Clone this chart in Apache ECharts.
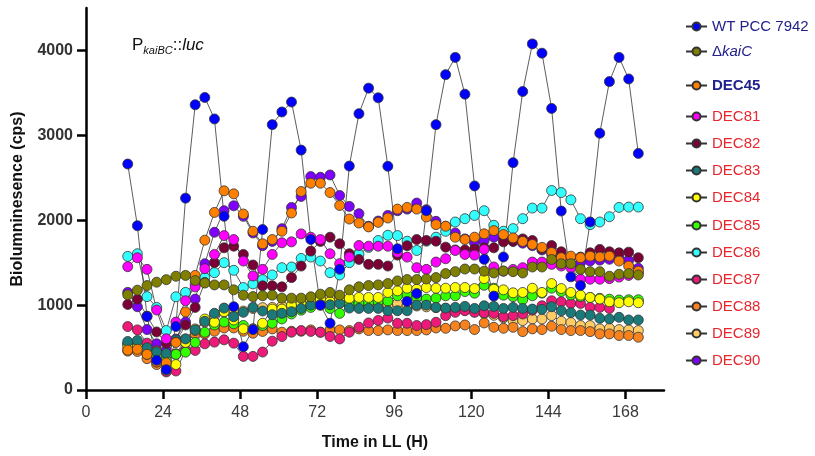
<!DOCTYPE html>
<html><head><meta charset="utf-8">
<script src="https://cdn.jsdelivr.net/npm/echarts@6/dist/echarts.min.js"></script>
<style>html,body{margin:0;padding:0;background:#fff}#c{width:815px;height:456px}</style>
</head><body><div id="c"></div>
<script>
const times = [13,16,19,22,25,28,31,34,37,40,43,46,49,52,55,58,61,64,67,70,73,76,79,82,85,88,91,94,97,100,103,106,109,112,115,118,121,124,127,130,133,136,139,142,145,148,151,154,157,160,163,166,169,172];
const xTicks = [0,24,48,72,96,120,144,168];
const yTicks = [0,1000,2000,3000,4000];

const wt = [2662,1935,865,350,240,748,2260,3360,3446,3193,2046,981,509,712,1890,3126,3275,3392,2826,1773,1000,786,1422,2638,3255,3556,3442,2635,1664,1044,1137,2112,3126,3715,3918,3485,2404,1539,1106,1567,2678,3516,4077,3968,3317,2108,1333,1231,1980,3024,3633,3918,3664,2787];
const kaiC = [1121,1176,1230,1270,1300,1340,1350,1290,1260,1238,1238,1180,1117,1100,1110,1117,1082,1082,1082,1098,1129,1149,1117,1180,1215,1230,1238,1254,1285,1301,1301,1308,1324,1371,1394,1425,1425,1400,1379,1402,1394,1379,1449,1449,1538,1488,1488,1421,1394,1394,1340,1363,1371,1355];
const dec45 = [470,480,420,330,320,560,920,1350,1765,2092,2346,2311,2073,1870,1722,1772,1870,2085,2338,2436,2436,2326,2174,2014,1967,1921,1975,2026,2131,2151,2131,2038,1948,1929,1800,1772,1800,1840,1878,1831,1792,1750,1714,1680,1620,1558,1577,1558,1577,1566,1577,1519,1460,1400];
const dec81 = [1453,1558,1421,942,603,800,1051,1215,1429,1597,1819,1772,1519,1343,1421,1597,1734,1745,1839,1800,1772,1605,1488,1566,1702,1694,1694,1694,1620,1566,1441,1421,1507,1546,1644,1597,1589,1656,1449,1400,1420,1441,1507,1507,1480,1460,1441,1305,1305,1305,1312,1330,1350,1380];
const dec82 = [1008,1070,870,684,552,564,766,973,1266,1500,1675,1694,1597,1472,1227,1227,1215,1324,1460,1636,1750,1800,1722,1605,1538,1480,1480,1460,1589,1700,1772,1761,1753,1683,1650,1650,1660,1675,1675,1745,1753,1780,1761,1663,1702,1628,1566,1566,1616,1656,1628,1616,1624,1558];
const dec83 = [571,583,497,450,430,591,602,708,809,903,965,864,915,973,930,887,903,922,960,1000,1004,1004,1020,965,961,961,961,934,934,934,1000,1000,973,965,973,985,961,992,985,961,973,961,953,950,981,934,911,883,883,844,837,856,825,825];
const dec84 = [500,505,420,330,232,300,560,700,836,798,922,825,720,720,786,953,953,1000,1020,1050,1070,1040,1060,1080,1090,1090,1090,1149,1168,1199,1188,1207,1199,1199,1207,1207,1195,1312,1188,1180,1145,1149,1199,1149,1254,1195,1149,1117,1090,1071,1039,1028,1039,1028];
const dec85 = [540,520,460,400,350,420,446,560,680,766,800,780,760,720,760,786,837,895,940,973,1000,960,903,1000,1020,1032,1043,1047,1110,1121,1090,1071,1082,1110,1110,1160,1141,1234,1199,1117,1100,1063,1110,1141,1200,1160,1120,1100,1090,1080,1070,1060,1063,1063];
const dec86 = [1574,1605,1100,973,700,1098,1150,1250,1324,1382,1500,1410,1207,1250,1300,1355,1441,1449,1550,1566,1519,1382,1355,1500,1600,1680,1761,1823,1819,1753,1644,1753,1800,1870,1979,2018,2057,2112,1940,1870,1901,2018,2143,2143,2350,2326,2240,2018,1948,1979,2041,2151,2155,2155];
const dec87 = [747,708,552,466,213,224,466,466,544,564,591,552,396,396,447,575,630,681,700,690,681,630,602,681,740,790,820,848,786,786,759,770,798,876,915,934,915,910,903,864,876,895,940,992,1051,1039,1020,1020,973,973,961,1051,1051,1040];
const dec88 = [458,454,369,300,330,427,552,661,661,692,731,731,692,669,690,720,681,692,692,708,681,708,708,700,720,700,700,708,700,700,700,708,731,727,755,766,712,790,739,727,739,688,720,712,751,712,700,700,688,661,661,642,642,622];
const dec89 = [540,500,440,350,300,420,600,720,800,880,920,950,930,960,970,973,990,1000,1010,1030,1050,1080,1090,1050,1000,980,990,1000,1020,1000,990,980,970,960,950,940,920,900,880,850,817,817,837,837,876,809,794,759,759,720,727,712,708,700];
const dec90 = [1150,981,712,544,466,600,800,1071,1488,1858,2112,2170,2046,1850,1700,1750,1900,2150,2280,2514,2506,2533,2291,2163,2077,1929,1990,2057,2112,2131,2202,2124,1987,1929,1850,1780,1733,1760,1800,1780,1750,1730,1700,1650,1600,1540,1480,1500,1520,1530,1540,1560,1527,1433];

const NAVY = '#22228c', RED = '#e8262d';
const defs = [
  {name:'WT PCC 7942', data:wt,  color:'#0000ff', text:NAVY, top:21},
  {name:'ΔkaiC',      data:kaiC, color:'#808000', text:NAVY, top:46, italic:true},
  {name:'DEC45',      data:dec45, color:'#ff8000', text:NAVY, top:80, bold:true},
  {name:'DEC81',      data:dec81, color:'#ff00ff', text:RED, top:111},
  {name:'DEC82',      data:dec82, color:'#7a0036', text:RED, top:138},
  {name:'DEC83',      data:dec83, color:'#1a7a7a', text:RED, top:165},
  {name:'DEC84',      data:dec84, color:'#ffff00', text:RED, top:192},
  {name:'DEC85',      data:dec85, color:'#33ff00', text:RED, top:220},
  {name:'DEC86',      data:dec86, color:'#33ffff', text:RED, top:247},
  {name:'DEC87',      data:dec87, color:'#ee1a7a', text:RED, top:274},
  {name:'DEC88',      data:dec88, color:'#f7821e', text:RED, top:301},
  {name:'DEC89',      data:dec89, color:'#ffcc66', text:RED, top:328},
  {name:'DEC90',      data:dec90, color:'#8000ff', text:RED, top:355}
];

const series = defs.slice().reverse().map(d => ({
  name: d.name, type:'line', data: times.map((t,i)=>[t,d.data[i]]),
  symbol:'circle', symbolSize:10, showSymbol:true,
  lineStyle:{color:'#333', width:0.8},
  itemStyle:{color:d.color, borderColor:'#333', borderWidth:0.8},
  emphasis:{disabled:true}, animation:false
}));

const legends = defs.map(d => ({
  data:[d.name], left:680, top:d.top-7, itemWidth:21, itemHeight:10, itemGap:0,
  selectedMode:false,
  textStyle: d.italic ? {fontFamily:'Liberation Sans', fontSize:15, color:d.text,
      rich:{n:{fontSize:15,color:d.text,fontFamily:'Liberation Sans'},i:{fontSize:15,fontStyle:'italic',color:d.text,fontFamily:'Liberation Sans'}}}
    : {fontFamily:'Liberation Sans', fontSize:15, color:d.text, fontWeight: d.bold?'bold':'normal'},
  formatter: d.italic ? (n => '{n|Δ}{i|kaiC}') : undefined
}));

const chart = echarts.init(document.getElementById('c'));
chart.setOption({
  animation:false,
  backgroundColor:'#fff',
  grid:{left:86, right:151, top:8, bottom:62, containLabel:false},
  legend: legends,
  xAxis:{type:'value', min:0, max:180, interval:24,
    name:'Time in LL (H)', nameLocation:'middle', nameGap:45,
    nameTextStyle:{fontFamily:'Liberation Sans', fontSize:16, fontWeight:'bold', color:'#111'},
    axisLine:{lineStyle:{color:'#000', width:2.5}},
    axisTick:{length:9, lineStyle:{color:'#000', width:2.5}, customValues:xTicks},
    axisLabel:{customValues:xTicks, fontFamily:'Liberation Sans', fontSize:16, color:'#3a3a3a', margin:15},
    splitLine:{show:false}},
  yAxis:{type:'value', min:0, max:4500, interval:1000,
    name:'Biolumninesence (cps)', nameLocation:'middle', nameGap:60, nameRotate:90,
    nameTextStyle:{fontFamily:'Liberation Sans', fontSize:16, fontWeight:'bold', color:'#111'},
    axisLine:{lineStyle:{color:'#000', width:2.5}},
    axisTick:{length:9, lineStyle:{color:'#000', width:2.5}, customValues:yTicks},
    axisLabel:{customValues:yTicks, formatter: v => String(v), fontFamily:'Liberation Sans', fontSize:16, fontWeight:'bold', color:'#333', margin:13},
    splitLine:{show:false}},
  graphic:[{type:'text', left:132, top:37, style:{
    text:'{p|P}{s|kaiBC}{n|::}{i|luc}',
    rich:{p:{fontSize:17,fontFamily:'Liberation Sans',fill:'#111'},
          s:{fontSize:11,fontStyle:'italic',fontFamily:'Liberation Sans',fill:'#111',padding:[10,0,0,0]},
          n:{fontSize:17,fontFamily:'Liberation Sans',fill:'#111'},
          i:{fontSize:17,fontStyle:'italic',fontFamily:'Liberation Sans',fill:'#111'}}}}],
  series: series
});
</script></body></html>
